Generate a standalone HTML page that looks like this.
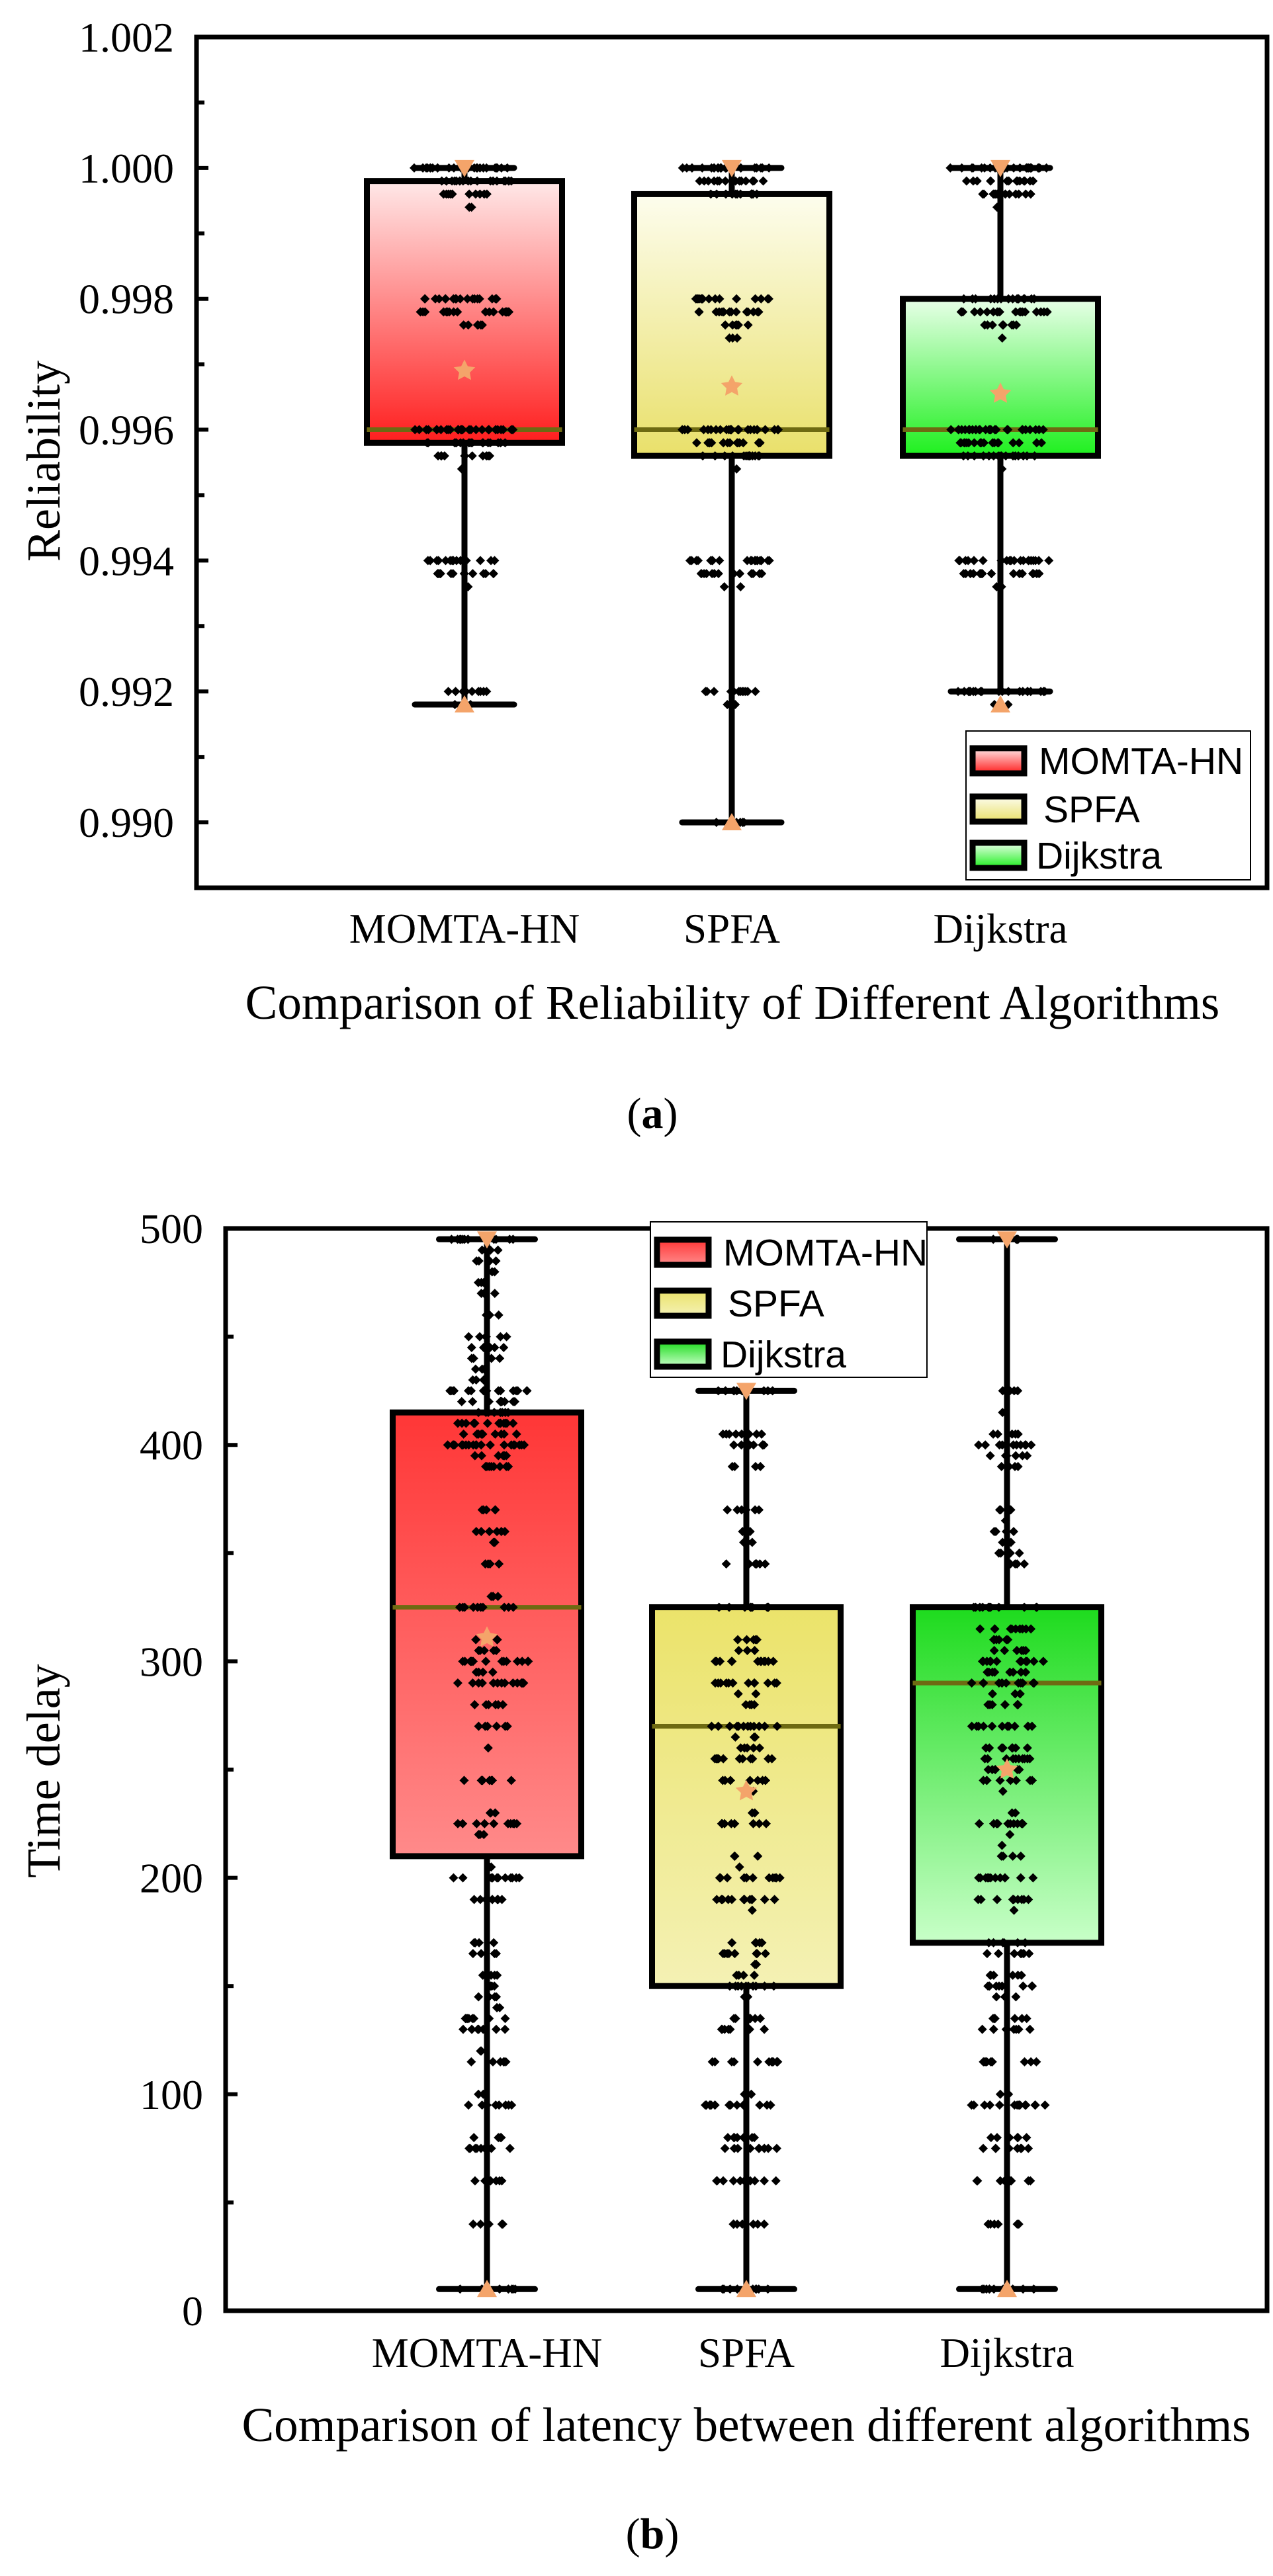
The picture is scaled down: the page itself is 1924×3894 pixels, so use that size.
<!DOCTYPE html>
<html><head><meta charset="utf-8"><style>
html,body{margin:0;padding:0;background:#fff;}
svg{display:block;}
text{font-family:"Liberation Serif",serif;}
.sans{font-family:"Liberation Sans","DejaVu Sans",sans-serif;}
</style></head>
<body>
<svg id="fig" width="1924" height="3894" viewBox="0 0 1924 3894" xmlns="http://www.w3.org/2000/svg">
<defs>
<linearGradient id="gA0" x1="0" y1="0" x2="0" y2="1"><stop offset="0" stop-color="#ffe8e8"/><stop offset="1" stop-color="#ff1e1e"/></linearGradient>
<linearGradient id="gA1" x1="0" y1="0" x2="0" y2="1"><stop offset="0" stop-color="#fdfdee"/><stop offset="1" stop-color="#e9e06a"/></linearGradient>
<linearGradient id="gA2" x1="0" y1="0" x2="0" y2="1"><stop offset="0" stop-color="#e8ffe8"/><stop offset="1" stop-color="#1ef01e"/></linearGradient>
<linearGradient id="gB0" x1="0" y1="0" x2="0" y2="1"><stop offset="0" stop-color="#ff3636"/><stop offset="1" stop-color="#ff8a8a"/></linearGradient>
<linearGradient id="gB1" x1="0" y1="0" x2="0" y2="1"><stop offset="0" stop-color="#ebe36a"/><stop offset="1" stop-color="#f4f1b4"/></linearGradient>
<linearGradient id="gB2" x1="0" y1="0" x2="0" y2="1"><stop offset="0" stop-color="#1ddb1d"/><stop offset="1" stop-color="#c8ffc8"/></linearGradient>
</defs>
</svg>
<script>
const NS='http://www.w3.org/2000/svg';
const svg=document.getElementById('fig');
// ---------- data ----------
const categories=['MOMTA-HN','SPFA','Dijkstra'];
const relTicks=[0.990,0.992,0.994,0.996,0.998,1.000,1.002];
const relTickLabels=['0.990','0.992','0.994','0.996','0.998','1.000','1.002'];
const relQ1=[0.9958,0.9956,0.9956];
const relQ3=[0.9998,0.9996,0.9980];
const relMedian=[0.9960,0.9960,0.9960];
const relWhiskerMin=[0.9918,0.9900,0.9920];
const relWhiskerMax=[1.0000,1.0000,1.0000];
const relMean=[0.99690,0.99666,0.99655];
const relMin=[0.9918,0.9900,0.9918];
const relMax=[1.0000,1.0000,1.0000];
const relLevels0=[[1.0,25],[0.9998,20],[0.9996,10],[0.9994,2],[0.998,18],[0.9978,20],[0.9976,6],[0.996,30],[0.9958,18],[0.9956,10],[0.9954,1],[0.994,15],[0.9938,12],[0.9936,1],[0.992,10],[0.9918,3]];
const relLevels1=[[1.0,25],[0.9998,14],[0.9996,12],[0.998,16],[0.9978,14],[0.9976,6],[0.9974,3],[0.996,24],[0.9958,16],[0.9956,14],[0.9954,1],[0.994,20],[0.9938,14],[0.9936,2],[0.992,12],[0.9918,2],[0.990,6]];
const relLevels2=[[1.0,28],[0.9998,14],[0.9996,12],[0.9994,1],[0.998,16],[0.9978,20],[0.9976,8],[0.9974,1],[0.996,28],[0.9958,18],[0.9956,16],[0.9954,1],[0.994,22],[0.9938,16],[0.9936,2],[0.992,20],[0.9918,2]];
const latTicks=[0,100,200,300,400,500];
const latTickLabels=['0','100','200','300','400','500'];
const latQ1=[210,150,170];
const latQ3=[415,325,325];
const latMedian=[325,270,290];
const latWhiskerMin=[10,10,10];
const latWhiskerMax=[495,425,495];
const latMean=[311,240,250];
const latMin=[10,10,10];
const latMax=[495,425,495];
const latLevels0=[[495,12],[490,3],[485,4],[480,2],[475,3],[470,3],[460,3],[450,6],[445,5],[440,4],[435,3],[430,4],[425,15],[420,10],[415,8],[410,12],[405,10],[400,20],[395,6],[390,8],[370,5],[360,6],[355,2],[345,4],[330,4],[325,10],[310,3],[305,5],[300,15],[295,4],[290,14],[280,6],[270,6],[260,1],[245,8],[230,3],[225,10],[220,3],[205,2],[200,12],[190,8],[170,4],[165,4],[155,4],[150,3],[145,4],[140,3],[135,8],[130,8],[120,2],[115,6],[100,2],[95,8],[80,4],[75,8],[60,6],[40,5],[10,10]];
const latLevels1=[[425,12],[405,8],[400,8],[390,4],[370,6],[360,2],[355,3],[345,6],[325,10],[310,5],[305,3],[300,12],[290,12],[285,2],[280,4],[270,12],[265,3],[260,5],[255,12],[245,8],[240,2],[230,2],[225,8],[210,3],[205,1],[200,12],[190,12],[185,1],[170,5],[165,8],[160,2],[155,4],[150,10],[145,2],[135,6],[130,8],[115,12],[100,3],[95,15],[80,8],[75,10],[60,12],[40,8],[10,10]];
const latLevels2=[[495,5],[425,4],[415,1],[405,6],[400,10],[395,6],[390,4],[370,4],[365,1],[360,4],[355,2],[350,4],[345,5],[325,12],[315,10],[310,6],[305,6],[300,15],[295,8],[290,12],[285,4],[280,6],[270,12],[260,8],[255,10],[250,6],[245,8],[240,1],[230,2],[225,10],[220,1],[215,1],[210,4],[200,12],[190,10],[185,1],[170,6],[165,8],[155,6],[150,8],[145,3],[135,6],[130,8],[115,10],[100,2],[95,15],[80,6],[75,8],[60,10],[40,6],[10,10]];

function el(tag,attrs,parent){const e=document.createElementNS(NS,tag);for(const k in attrs)e.setAttribute(k,attrs[k]);(parent||svg).appendChild(e);return e;}
function hash(i,j){const s=Math.sin(i*127.1+j*311.7)*43758.5453;return s-Math.floor(s);}
function star(cx,cy,r){let p=[];for(let i=0;i<10;i++){const a=-Math.PI/2+i*Math.PI/5;const rr=i%2?r*0.5:r;p.push((cx+rr*Math.cos(a)).toFixed(1)+','+(cy+rr*Math.sin(a)).toFixed(1));}return p.join(' ');}

function drawChart(cfg){
  const {L,R,T,B,vmin,vmax}=cfg;
  const y=v=>B-(v-vmin)/(vmax-vmin)*(B-T);
  const xc=i=>cfg.cx[i];
  const g=el('g',{});
  
  
  for(let i=0;i<3;i++){
    const s=el('g',{},g);
    
    
    const hw=cfg.boxW/2, cw=cfg.capW/2;
    const wl=el('line',{x1:xc(i),x2:xc(i),y1:y(cfg.wMax[i]),y2:y(cfg.wMin[i]),stroke:'#000','stroke-width':9},s);
    
    const b=el('rect',{x:xc(i)-hw,y:y(cfg.q3[i]),width:cfg.boxW,height:y(cfg.q1[i])-y(cfg.q3[i]),fill:'url(#'+cfg.grad+i+')',stroke:'#000','stroke-width':9},s);
    
    for(const v of [cfg.wMax[i],cfg.wMin[i]]){
      const c=el('line',{x1:xc(i)-cw,x2:xc(i)+cw,y1:y(v),y2:y(v),stroke:'#000','stroke-width':9,'stroke-linecap':'round'},s);
      
    }
    const md=el('line',{x1:xc(i)-hw,x2:xc(i)+hw,y1:y(cfg.med[i]),y2:y(cfg.med[i]),stroke:'#6e6a12','stroke-width':7},s);
    
    // points
    const lv=cfg.levels[i];
    lv.forEach((p,j)=>{
      const [v,n]=p; const spread=Math.min(cfg.spreadMax,8+n*cfg.spreadK);
      for(let k=0;k<n;k++){
        const dx=(hash(j*31+i,k)*2-1)*spread; const py=y(v);
        const d=el('polygon',{points:`${xc(i)+dx},${py-7} ${xc(i)+dx+7},${py} ${xc(i)+dx},${py+7} ${xc(i)+dx-7},${py}`,fill:'#000'},s);
        
        
      }
    });
    // markers
    const my=y(cfg.max[i]), ny=y(cfg.min[i]);
    const mx=el('polygon',{points:`${xc(i)-15},${my-12} ${xc(i)+15},${my-12} ${xc(i)},${my+14}`,fill:'#f4a46a'},s);
    
    const mn=el('polygon',{points:`${xc(i)-15},${ny+12} ${xc(i)+15},${ny+12} ${xc(i)},${ny-14}`,fill:'#f4a46a'},s);
    
    const st=el('polygon',{points:star(xc(i),y(cfg.mean[i]),17),fill:'#f4a46a'},s);
    
  }
  // axes frame
  const fr=el('rect',{x:L,y:T,width:R-L,height:B-T,fill:'none',stroke:'#000','stroke-width':7},g);
  
  cfg.ticks.forEach((t,k)=>{
    const ty=y(t);
    const tl=el('line',{x1:L,x2:L+18,y1:ty,y2:ty,stroke:'#000','stroke-width':6},g);
    
    const tx=el('text',{x:cfg.labelX,y:ty+22,'text-anchor':'end','font-size':64},g);
    tx.textContent=cfg.tickLabels[k];
    
    if(k<cfg.ticks.length-1){
      const mv=(t+cfg.ticks[k+1])/2; const m=el('line',{x1:L,x2:L+12,y1:y(mv),y2:y(mv),stroke:'#000','stroke-width':6},g);
      
    }
  });
  if(cfg.ticks[0]>vmin){const mv=cfg.ticks[0]-(cfg.ticks[1]-cfg.ticks[0])/2; if(mv>vmin){const m=el('line',{x1:L,x2:L+12,y1:y(mv),y2:y(mv),stroke:'#000','stroke-width':6},g);}}
  categories.forEach((c,i)=>{
    const t=el('text',{x:xc(i),y:cfg.catY,'text-anchor':'middle','font-size':63},g);
    t.textContent=c;
  });
  const yt=el('text',{x:0,y:0,'text-anchor':'middle','font-size':72,transform:`translate(${cfg.yTitleX},${cfg.yTitleY}) rotate(-90)`},g);
  yt.textContent=cfg.yTitle;
  const xt=el('text',{x:cfg.xTitleX,y:cfg.xTitleY,'text-anchor':'middle','font-size':73},g);
  xt.textContent=cfg.xTitle;
  // legend
  const lg=el('g',{},g);
  
  el('rect',{x:cfg.leg[0],y:cfg.leg[1],width:cfg.leg[2],height:cfg.leg[3],fill:'#fff',stroke:'#000','stroke-width':2},lg);
  categories.forEach((c,i)=>{
    const ry=cfg.legRows[i];
    const e=el('g',{},lg);
    
    el('rect',{x:cfg.leg[0]+10,y:ry-19,width:78,height:38,fill:'url(#'+cfg.grad+i+')',stroke:'#000','stroke-width':9},e);
    const t=el('text',{x:cfg.leg[0]+(i===2?106:i===1?117:110),y:ry+20,'font-size':57,class:'sans'},e);
    t.textContent=c;
  });
}
drawChart({name:'reliability-chart',L:297,R:1915,T:56,B:1342,vmin:0.989,vmax:1.002,cx:[702,1106,1512],boxW:295,capW:150,
  q1:relQ1,q3:relQ3,med:relMedian,wMin:relWhiskerMin,wMax:relWhiskerMax,mean:relMean,min:relMin,max:relMax,
  levels:[relLevels0,relLevels1,relLevels2],spreadMax:76,spreadK:3.2,grad:'gA',ticks:relTicks,tickLabels:relTickLabels,labelX:263,
  catY:1425,yTitle:'Reliability',yTitleX:90,yTitleY:697,xTitle:'Comparison of Reliability of Different Algorithms',xTitleX:1107,xTitleY:1540,
  leg:[1460,1105,430,225],legRows:[1150,1223,1293]});
drawChart({name:'latency-chart',L:341,R:1915,T:1857,B:3493,vmin:0,vmax:500,cx:[736,1128,1522],boxW:285,capW:145,
  q1:latQ1,q3:latQ3,med:latMedian,wMin:latWhiskerMin,wMax:latWhiskerMax,mean:latMean,min:latMin,max:latMax,
  levels:[latLevels0,latLevels1,latLevels2],spreadMax:64,spreadK:3.8,grad:'gB',ticks:latTicks,tickLabels:latTickLabels,labelX:307,
  catY:3578,yTitle:'Time delay',yTitleX:90,yTitleY:2677,xTitle:'Comparison of latency between different algorithms',xTitleX:1128,xTitleY:3690,
  leg:[983,1847,418,235],legRows:[1893,1970,2047]});
const la=el('text',{x:986,y:1705,'text-anchor':'middle','font-size':66});
la.innerHTML='(<tspan font-weight="bold">a</tspan>)';

const lb=el('text',{x:986,y:3852,'text-anchor':'middle','font-size':66});
lb.innerHTML='(<tspan font-weight="bold">b</tspan>)';

</script>
</body></html>
